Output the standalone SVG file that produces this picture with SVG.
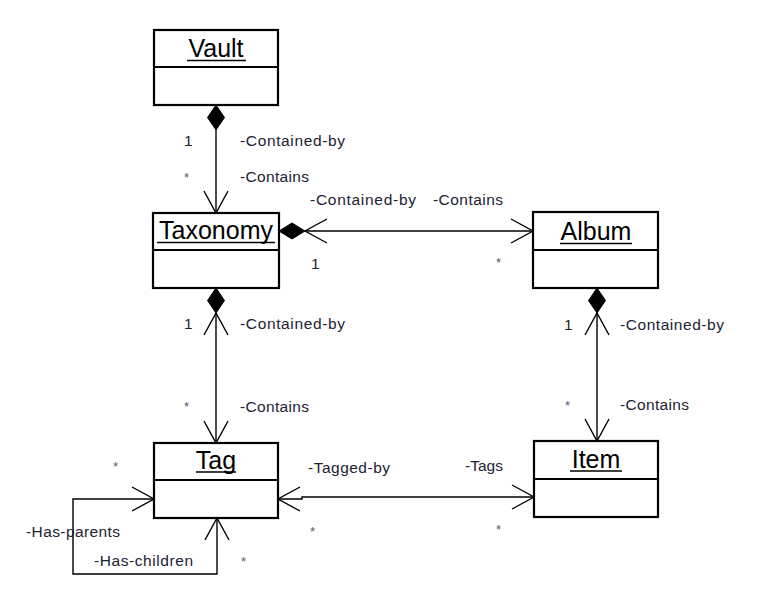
<svg xmlns="http://www.w3.org/2000/svg" width="757" height="616" viewBox="0 0 757 616">
<style>
.box{fill:#fff;stroke:#000;stroke-width:2.2}
.div{stroke:#000;stroke-width:2.2}
.title{font-family:"Liberation Sans",Arial,sans-serif;font-size:25px;fill:#000;text-anchor:middle}
.ul{stroke:#000;stroke-width:1.6}
.conn{fill:none;stroke:#000;stroke-width:1.4}
.dia{fill:#000;stroke:#000;stroke-width:1}
.lbl{font-family:"Liberation Sans",Arial,sans-serif;font-size:15.5px;fill:#1c2233}
.star{font-family:"Liberation Sans",Arial,sans-serif;font-size:13px;fill:#5e5476}
</style>
<defs>
<marker id="open" markerUnits="userSpaceOnUse" markerWidth="30" markerHeight="30" viewBox="-25 -15 30 30" refX="0" refY="0" orient="auto-start-reverse" overflow="visible">
<path d="M-22,-12 L0,0 L-22,12" fill="none" stroke="#000" stroke-width="1.4"/>
</marker>
<path id="diaV" d="M0,0 L8.5,12.5 L0,25 L-8.5,12.5 Z"/>
</defs>
<rect width="757" height="616" fill="#fff"/>

<g id="connectors">
<!-- Vault -> Taxonomy -->
<use href="#diaV" class="dia" x="216" y="105"/>
<path class="conn" d="M216,130 L216,213" marker-end="url(#open)"/>
<!-- Taxonomy <-> Album -->
<path class="dia" d="M279,231 L292,223 L305,231 L292,239 Z"/>
<path class="conn" d="M305,231 L533,231" marker-start="url(#open)" marker-end="url(#open)"/>
<!-- Taxonomy <-> Tag -->
<use href="#diaV" class="dia" x="216" y="288"/>
<path class="conn" d="M216,313 L216,443" marker-start="url(#open)" marker-end="url(#open)"/>
<!-- Album <-> Item -->
<use href="#diaV" class="dia" x="597" y="288"/>
<path class="conn" d="M597,313 L597,441" marker-start="url(#open)" marker-end="url(#open)"/>
<!-- Tag <-> Item -->
<path class="conn" d="M278,499 L302,499 L302,497 L534,497" marker-start="url(#open)" marker-end="url(#open)"/>
<!-- Tag self loop -->
<path class="conn" d="M154,499 L73,499 L73,574 L217,574 L217,518" marker-start="url(#open)" marker-end="url(#open)"/>
</g>

<g id="vault">
<rect class="box" x="154" y="30" width="124" height="75"/>
<line class="div" x1="154" y1="67" x2="278" y2="67"/>
<text class="title" x="216" y="57">Vault</text>
<line class="ul" x1="187" y1="60.5" x2="246" y2="60.5"/>
</g>

<g id="taxonomy">
<rect class="box" x="153" y="213" width="126" height="75"/>
<line class="div" x1="153" y1="250" x2="279" y2="250"/>
<text class="title" x="216" y="239">Taxonomy</text>
<line class="ul" x1="157" y1="242.5" x2="275" y2="242.5"/>
</g>

<g id="album">
<rect class="box" x="533" y="212" width="125" height="76"/>
<line class="div" x1="533" y1="250" x2="658" y2="250"/>
<text class="title" x="596" y="240">Album</text>
<line class="ul" x1="560" y1="243.5" x2="632" y2="243.5"/>
</g>

<g id="tag">
<rect class="box" x="154" y="443" width="124" height="75"/>
<line class="div" x1="154" y1="480" x2="278" y2="480"/>
<text class="title" x="216" y="469">Tag</text>
<line class="ul" x1="196" y1="472" x2="236" y2="472"/>
</g>

<g id="item">
<rect class="box" x="534" y="441" width="124" height="76"/>
<line class="div" x1="534" y1="479" x2="658" y2="479"/>
<text class="title" x="596" y="468">Item</text>
<line class="ul" x1="570" y1="471" x2="622" y2="471"/>
</g>

<g id="labels">
<text class="lbl" x="184" y="146">1</text>
<text class="lbl" x="240" y="146" textLength="105">-Contained-by</text>
<text class="star" x="184" y="182">*</text>
<text class="lbl" x="240" y="182" textLength="69">-Contains</text>

<text class="lbl" x="310" y="205" textLength="106">-Contained-by</text>
<text class="lbl" x="433" y="205" textLength="70">-Contains</text>
<text class="lbl" x="311" y="269">1</text>
<text class="star" x="496" y="267">*</text>

<text class="lbl" x="184" y="329">1</text>
<text class="lbl" x="240" y="329" textLength="105">-Contained-by</text>
<text class="star" x="184" y="411">*</text>
<text class="lbl" x="240" y="412" textLength="69">-Contains</text>

<text class="lbl" x="564" y="330">1</text>
<text class="lbl" x="620" y="330" textLength="104">-Contained-by</text>
<text class="star" x="565" y="410">*</text>
<text class="lbl" x="620" y="410" textLength="69">-Contains</text>

<text class="star" x="113" y="471">*</text>
<text class="lbl" x="308" y="473" textLength="82">-Tagged-by</text>
<text class="lbl" x="465" y="471" textLength="38">-Tags</text>
<text class="star" x="310" y="536">*</text>
<text class="star" x="496" y="534">*</text>
<text class="lbl" x="26" y="537" textLength="94">-Has-parents</text>
<text class="lbl" x="94" y="566" textLength="99">-Has-children</text>
<text class="star" x="241" y="566">*</text>
</g>
</svg>
